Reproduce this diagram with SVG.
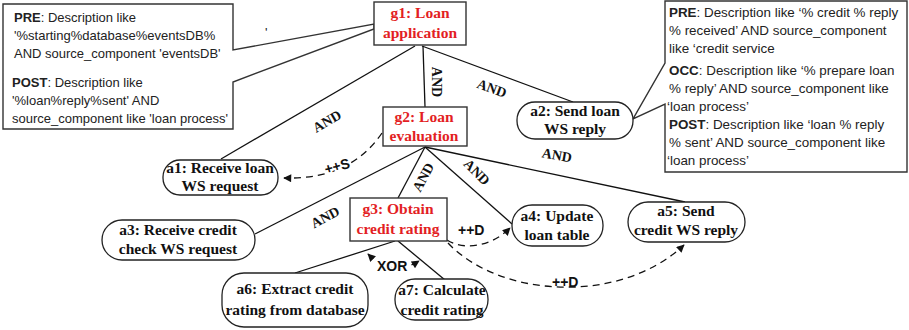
<svg xmlns="http://www.w3.org/2000/svg" width="909" height="330" viewBox="0 0 909 330">
<style>
.note{fill:#fff;stroke:#333;stroke-width:1.4}
.nt{font-family:"Liberation Sans",Arial,sans-serif;font-size:13px;fill:#222}
.nr{font-size:13.4px}
.b{font-weight:bold}
.goal{fill:#fff;stroke:#333;stroke-width:1.4}
.act{fill:#fff;stroke:#222;stroke-width:1.3}
.gl{font-family:"Liberation Serif","Times New Roman",serif;font-weight:bold;font-size:15.5px;fill:#e31e24;text-anchor:middle}
.al{font-family:"Liberation Serif","Times New Roman",serif;font-weight:bold;font-size:15.5px;fill:#111;text-anchor:middle}
.ln{fill:none;stroke:#111;stroke-width:1.3}
.dl{fill:none;stroke:#111;stroke-width:1.3;stroke-dasharray:7 5}
.and{font-family:"Liberation Serif","Times New Roman",serif;font-weight:bold;font-size:14px;fill:#111;text-anchor:middle}
.op{font-family:"Liberation Sans",Arial,sans-serif;font-weight:bold;font-size:14px;fill:#111}
.halo{stroke:#fff;stroke-width:4;paint-order:stroke}
</style>
<defs>
<marker id="ah" viewBox="0 0 10 10" refX="9" refY="5" markerWidth="9" markerHeight="8" markerUnits="userSpaceOnUse" orient="auto-start-reverse">
<path d="M0,0 L10,5 L0,10 z" fill="#111"/>
</marker>
</defs>

<g id="connectors">
<path class="ln" d="M415,46 L221,159"/>
<path class="ln" d="M423,46 L425,107"/>
<path class="ln" d="M422,46 L573,102"/>
<path class="ln" d="M425,147 L255,234"/>
<path class="ln" d="M425,147 L398,198"/>
<path class="ln" d="M425,147 L512,224"/>
<path class="ln" d="M425,147 L685,202"/>
<path class="ln" d="M395,241 L295,273"/>
<path class="ln" d="M398,241 L445,280"/>
<path class="dl" d="M382,133 Q350,180 284,178" marker-end="url(#ah)"/>
<path class="dl" d="M447,240 C462,250 490,248 510,228" marker-end="url(#ah)"/>
<path class="dl" d="M448,243 C500,298 620,305 684,245" marker-end="url(#ah)"/>
<path class="dl" d="M368,254 Q392,278 419,261" marker-start="url(#ah)" marker-end="url(#ah)"/>
<text class="and" transform="translate(327,121) rotate(-30)" y="5">AND</text>
<text class="and" transform="translate(437,82) rotate(90)" y="5">AND</text>
<text class="and" transform="translate(492,88) rotate(20)" y="5">AND</text>
<text class="and" transform="translate(557,155) rotate(10)" y="5">AND</text>
<text class="and" transform="translate(477,172) rotate(45)" y="5">AND</text>
<text class="and" transform="translate(423,177) rotate(-62)" y="5">AND</text>
<text class="and" transform="translate(325,217) rotate(-28)" y="5">AND</text>
<text class="op halo" transform="translate(337,166) rotate(-15)" text-anchor="middle" y="5">++S</text>
<text class="op" x="458" y="235">++D</text>
<text class="op" x="552" y="287">++D</text>
<text class="op halo" x="377" y="271">XOR</text>
</g>

<g id="note-g1">
<polygon class="note" points="3,4 233,4 233,50 374,24 374,29 233,82 233,129 3,129"/>
<text class="nt" x="14" y="22"><tspan class="b">PRE</tspan>: Description like</text>
<text class="nt" x="14" y="40">'%starting%database%eventsDB%</text>
<text class="nt" x="14" y="58">AND source_component 'eventsDB'</text>
<text class="nt" x="12" y="87"><tspan class="b">POST</tspan>: Description like</text>
<text class="nt" x="12" y="105">'%loan%reply%sent' AND</text>
<text class="nt" x="12" y="123">source_component like 'loan process'</text>
</g>
<text class="nt" x="265" y="37" font-size="10">'</text>

<g id="note-a2">
<polygon class="note" points="665,1 907,1 907,172 665,172 665,104 633,119 665,63"/>
<text class="nt nr" x="669" y="17"><tspan class="b">PRE</tspan>: Description like ‘% credit % reply</text>
<text class="nt nr" x="669" y="35">% received’ AND source_component</text>
<text class="nt nr" x="669" y="53">like ‘credit service</text>
<text class="nt nr" x="669" y="75"><tspan class="b">OCC</tspan>: Description like ‘% prepare loan</text>
<text class="nt nr" x="669" y="93">% reply’ AND source_component like</text>
<text class="nt nr" x="667" y="111">‘loan process’</text>
<text class="nt nr" x="669" y="129"><tspan class="b">POST</tspan>: Description like ‘loan % reply</text>
<text class="nt nr" x="669" y="147">% sent’ AND source_component like</text>
<text class="nt nr" x="667" y="165">‘loan process’</text>
</g>

<g id="g1">
<rect class="goal" x="374" y="2" width="92" height="43"/>
<text class="gl" x="420" y="18">g1: Loan</text>
<text class="gl" x="420" y="38">application</text>
</g>
<g id="g2">
<rect class="goal" x="383" y="107" width="84" height="39"/>
<text class="gl" x="424" y="122">g2: Loan</text>
<text class="gl" x="424" y="141">evaluation</text>
</g>
<g id="g3">
<rect class="goal" x="350" y="198" width="97" height="43"/>
<text class="gl" x="398" y="214">g3: Obtain</text>
<text class="gl" x="398" y="234">credit rating</text>
</g>
<g id="a1">
<rect class="act" x="163" y="160" width="115" height="35" rx="17"/>
<text class="al" x="220" y="173">a1: Receive loan</text>
<text class="al" x="220" y="191">WS request</text>
</g>
<g id="a2">
<rect class="act" x="517" y="102" width="116" height="37" rx="18"/>
<text class="al" x="575" y="116">a2: Send loan</text>
<text class="al" x="575" y="134">WS reply</text>
</g>
<g id="a3">
<rect class="act" x="102" y="220" width="153" height="40" rx="20"/>
<text class="al" x="178" y="235">a3: Receive credit</text>
<text class="al" x="178" y="254">check WS request</text>
</g>
<g id="a4">
<rect class="act" x="512" y="205" width="91" height="41" rx="20"/>
<text class="al" x="557" y="221">a4: Update</text>
<text class="al" x="557" y="240">loan table</text>
</g>
<g id="a5">
<rect class="act" x="628" y="202" width="117" height="40" rx="20"/>
<text class="al" x="686" y="216">a5: Send</text>
<text class="al" x="686" y="235">credit WS reply</text>
</g>
<g id="a6">
<rect class="act" x="222" y="273" width="146" height="54" rx="22"/>
<text class="al" x="295" y="294">a6: Extract credit</text>
<text class="al" x="295" y="315">rating from database</text>
</g>
<g id="a7">
<rect class="act" x="395" y="279" width="93" height="41" rx="20"/>
<text class="al" x="442" y="295">a7: Calculate</text>
<text class="al" x="442" y="315">credit rating</text>
</g>
</svg>
